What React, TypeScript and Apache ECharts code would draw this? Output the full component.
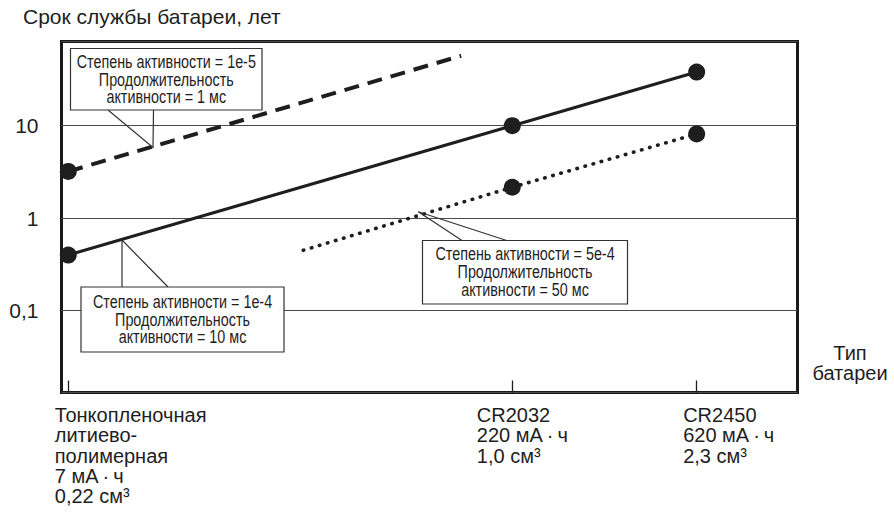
import React, { useEffect, useRef } from "react";
import * as echarts from "echarts";

// ---- data ----
const titleText = "Срок службы батареи, лет";
const xAxisName = "Тип\nбатареи";
const batteryX = [0.92, 61.25, 86.3]; // battery positions along the x axis
const batteryLabels = [
  "Тонкопленочная\nлитиево-\nполимерная\n7 мА\u2009·\u2009ч\n0,22 см³",
  "CR2032\n220 мА\u2009·\u2009ч\n1,0 см³",
  "CR2450\n620 мА\u2009·\u2009ч\n2,3 см³",
];
const yTickValues = [0.1, 1, 10];
const yTickLabels = ["0,1", "1", "10"];

// duty 1e-4, 10 ms (solid)
const solidX = [0.92, 61.25, 86.3];
const solidY = [0.4, 10, 38];
// duty 1e-5, 1 ms (dashed)
const dashedX = [0.92, 54.3];
const dashedY = [3.2, 57];
const dashedDots = [true, false];
// duty 5e-4, 50 ms (dotted)
const dottedX = [32.85, 61.25, 86.3];
const dottedY = [0.45, 2.16, 8.15];
const dottedDots = [false, true, true];

const noteTexts = [
  "Степень активности = 1e-5\nПродолжительность\nактивности = 1 мс",
  "Степень активности = 1e-4\nПродолжительность\nактивности = 10 мс",
  "Степень активности = 5e-4\nПродолжительность\nактивности = 50 мс",
];

const FONT = "'Liberation Sans', Arial, Helvetica, sans-serif";
const INK = "#1e1e1e";

export default function App() {
  const ref = useRef<HTMLDivElement>(null);

  useEffect(() => {
    document.body.style.margin = "0";
    const chart = echarts.init(ref.current!, null, { renderer: "svg" });

    const pts = (xs: number[], ys: number[], dots?: boolean[]) =>
      xs.map((x, i) =>
        dots && !dots[i] ? { value: [x, ys[i]], symbol: "none" } : { value: [x, ys[i]] }
      );

    const common = {
      type: "line",
      symbol: "circle",
      symbolSize: 17,
      clip: false,
      silent: true,
      itemStyle: { color: INK },
    };

    chart.setOption({
      animation: false,
      grid: {
        left: 61.5,
        right: 96.5,
        top: 41.5,
        bottom: 120.5,
        show: true,
        borderColor: "#1a1a1a",
        borderWidth: 3,
        backgroundColor: "transparent",
      },
      xAxis: {
        type: "value",
        min: 0,
        max: 100,
        axisLine: { show: false },
        axisLabel: { show: false },
        splitLine: { show: false },
        axisTick: {
          show: true,
          inside: true,
          length: 12,
          customValues: batteryX,
          lineStyle: { color: INK, width: 1.3 },
        },
      },
      yAxis: {
        type: "log",
        logBase: 10,
        min: 0.01306,
        max: 81.3,
        axisLine: { show: false },
        axisTick: { show: false },
        splitLine: { show: true, lineStyle: { color: "#4a4a4a", width: 1.2 } },
        axisLabel: {
          margin: 23,
          color: INK,
          fontSize: 21,
          fontFamily: FONT,
          formatter: (v: number) => {
            for (let i = 0; i < yTickValues.length; i++) {
              if (Math.abs(Math.log10(v) - Math.log10(yTickValues[i])) < 1e-6) return yTickLabels[i];
            }
            return "";
          },
        },
      },
      series: [
        {
          ...common,
          name: "1e-4",
          data: pts(solidX, solidY),
          lineStyle: { color: INK, width: 3 },
        },
        {
          ...common,
          name: "1e-5",
          data: pts(dashedX, dashedY, dashedDots),
          lineStyle: { color: INK, width: 4, type: [15, 9] },
        },
        {
          ...common,
          name: "5e-4",
          data: pts(dottedX, dottedY, dottedDots),
          lineStyle: { color: INK, width: 3.6, type: [0.5, 7.9], cap: "round" },
        },
      ],
    });

    const px = batteryX.map((v) => chart.convertToPixel({ xAxisIndex: 0 }, v) as number);
    const labelDx = [-13.5, -35.5, -13.5];

    const boxes = [
      { x: 70.5, y: 48.5, w: 191.5, h: 61.5, ptr: [[108, 110], [153, 147.5], [153.5, 110]], ty: 53.4 },
      { x: 81, y: 287, w: 203, h: 65, ptr: [[122, 287], [122, 240], [168, 287]], ty: 293.3 },
      { x: 422.5, y: 240.5, w: 205, h: 63.5, ptr: [[462, 240.5], [418.3, 211.7], [506.7, 240.5]], ty: 245.6 },
    ];

    const graphic: any[] = [
      {
        type: "text",
        x: 23,
        y: 16.5,
        z: 100,
        style: { text: titleText, fill: INK, fontSize: 21, fontFamily: FONT, verticalAlign: "middle" },
      },
      {
        type: "text",
        x: 850,
        y: 342.5,
        z: 100,
        style: {
          text: xAxisName,
          fill: INK,
          fontSize: 20,
          fontFamily: FONT,
          align: "center",
          verticalAlign: "top",
          lineHeight: 20.4,
        },
      },
    ];
    batteryLabels.forEach((t, i) => {
      graphic.push({
        type: "text",
        x: px[i] + labelDx[i],
        y: 404.5,
        z: 100,
        style: {
          text: t,
          fill: INK,
          fontSize: 20,
          fontFamily: FONT,
          align: "left",
          verticalAlign: "top",
          lineHeight: 20.4,
        },
      });
    });
    boxes.forEach((b, i) => {
      graphic.push({
        type: "polyline",
        z: 100,
        shape: { points: b.ptr },
        style: { stroke: "#333", lineWidth: 1.2, fill: null },
      });
      graphic.push({
        type: "rect",
        z: 101,
        shape: { x: b.x, y: b.y, width: b.w, height: b.h },
        style: { fill: "#fff", stroke: "#333", lineWidth: 1.2 },
      });
      graphic.push({
        type: "text",
        z: 102,
        x: b.x + b.w / 2,
        y: b.ty,
        scaleX: 0.82,
        style: {
          text: noteTexts[i],
          fill: INK,
          fontSize: 17.5,
          fontFamily: FONT,
          align: "center",
          verticalAlign: "top",
          lineHeight: 17.6,
        },
      });
    });
    chart.setOption({ graphic });

    return () => chart.dispose();
  }, []);

  return <div ref={ref} style={{ width: 894, height: 513 }} />;
}
